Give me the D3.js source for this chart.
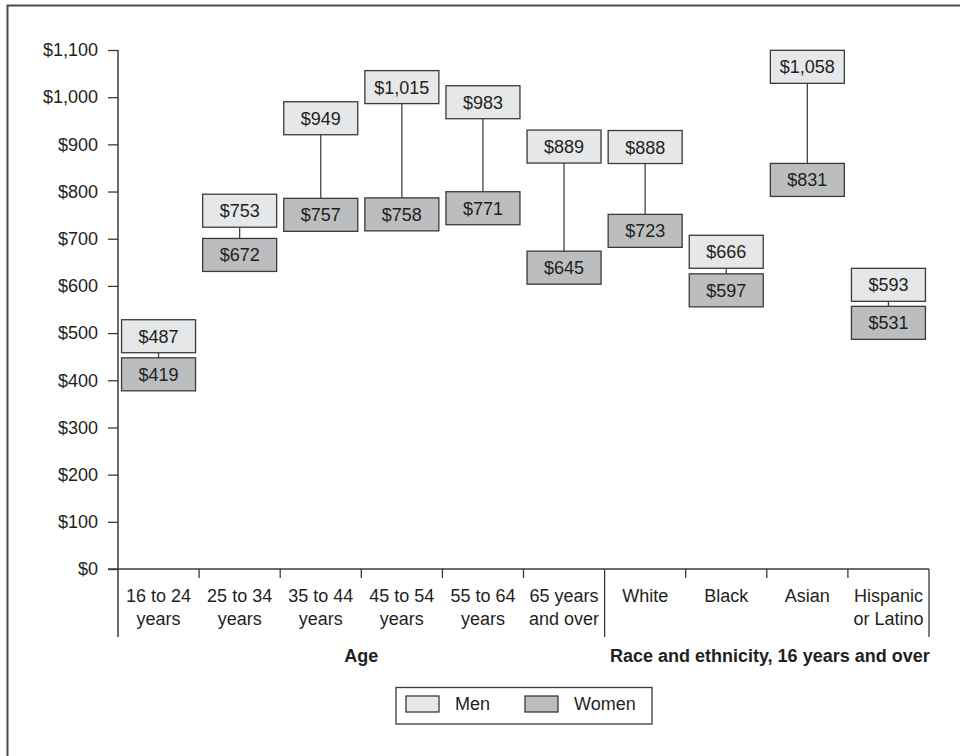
<!DOCTYPE html>
<html>
<head>
<meta charset="utf-8">
<script src="https://cdn.jsdelivr.net/npm/d3@7"></script>
<style>
  html, body { margin: 0; padding: 0; background: #fff; }
  svg { display: block; }
  text { font-family: "Liberation Sans", Arial, Helvetica, sans-serif; fill: #231f20; }
</style>
</head>
<body>
<svg id="chart" width="960" height="756"></svg>
<script>
// ---- data ----
const categories = ["16 to 24 years", "25 to 34 years", "35 to 44 years", "45 to 54 years", "55 to 64 years",
                    "65 years and over", "White", "Black", "Asian", "Hispanic or Latino"];
const categoryLines = [["16 to 24", "years"], ["25 to 34", "years"], ["35 to 44", "years"], ["45 to 54", "years"],
                       ["55 to 64", "years"], ["65 years", "and over"], ["White"], ["Black"], ["Asian"], ["Hispanic", "or Latino"]];
const men   = [487, 753, 949, 1015, 983, 889, 888, 666, 1058, 593];
const women = [419, 672, 757, 758, 771, 645, 723, 597, 831, 531];
const yTicks = [0, 100, 200, 300, 400, 500, 600, 700, 800, 900, 1000, 1100];
const groupLabels = ["Age", "Race and ethnicity, 16 years and over"];
const groupSizes = [6, 4];
const seriesNames = ["Men", "Women"];
const seriesColors = ["#e6e7e8", "#bcbdbf"];

// ---- layout ----
const svg = d3.select("#chart");
const stroke = "#3a3a3a";
const fs = 18;
const x = d3.scaleBand().domain(categories).range([118, 929]).padding(0);
const y = d3.scaleLinear().domain([0, 1100]).range([569, 50]);
const boxW = 74, boxH = 33, offset = 3, gap = 5;
const fmt = v => "$" + d3.format(",")(v);

// outer frame (cropped at right/bottom)
svg.append("path").attr("d", "M7.5,760 L7.5,5.5 L970,5.5")
  .attr("fill", "none").attr("stroke", "#4a4a4a").attr("stroke-width", 2);

// y axis
const yAxis = d3.axisLeft(y).tickValues(yTicks).tickFormat(fmt).tickSize(10).tickSizeOuter(0).tickPadding(10);
const yg = svg.append("g").attr("transform", "translate(118,0)").call(yAxis);
yg.select(".domain").remove();
yg.selectAll(".tick line").attr("stroke", stroke).attr("stroke-width", 1.3);
yg.selectAll(".tick text").attr("font-size", fs).attr("font-family", "Liberation Sans, Arial, sans-serif").attr("fill", "#231f20");
svg.append("line").attr("x1", 118).attr("x2", 118).attr("y1", y(1100)).attr("y2", 637)
  .attr("stroke", stroke).attr("stroke-width", 1.5);

// x axis line
svg.append("line").attr("x1", 108).attr("x2", x.range()[1]).attr("y1", y(0)).attr("y2", y(0))
  .attr("stroke", stroke).attr("stroke-width", 1.5);

// category separators
categories.forEach((c, i) => {
  if (i === 0) return;
  const bx = x(c);
  const tall = (i === groupSizes[0]);
  svg.append("line").attr("x1", bx).attr("x2", bx).attr("y1", y(0)).attr("y2", tall ? 637 : 578)
    .attr("stroke", stroke).attr("stroke-width", 1.3);
});
svg.append("line").attr("x1", x.range()[1]).attr("x2", x.range()[1]).attr("y1", y(0)).attr("y2", 637)
  .attr("stroke", stroke).attr("stroke-width", 1.3);

// category labels
categories.forEach((c, i) => {
  const t = svg.append("text").attr("x", x(c) + x.bandwidth() / 2).attr("y", 602)
    .attr("text-anchor", "middle").attr("font-size", fs);
  categoryLines[i].forEach((ln, j) => {
    t.append("tspan").attr("x", x(c) + x.bandwidth() / 2).attr("dy", j === 0 ? 0 : 23).text(ln);
  });
});

// group labels
const ageCenter = (x(categories[0]) + x(categories[5]) + x.bandwidth()) / 2;
const raceCenter = (x(categories[6]) + x(categories[9]) + x.bandwidth()) / 2 + 3;
svg.append("text").attr("x", ageCenter).attr("y", 662).attr("text-anchor", "middle")
  .attr("font-size", fs).attr("font-weight", "bold").text(groupLabels[0]);
svg.append("text").attr("x", raceCenter).attr("y", 662).attr("text-anchor", "middle")
  .attr("font-size", fs).attr("font-weight", "bold").text(groupLabels[1]);

// boxes
categories.forEach((c, i) => {
  const cx = x(c) + x.bandwidth() / 2;
  let ym = y(men[i]) - offset;
  let yw = y(women[i]) + offset;
  if (yw - ym < boxH + gap) {
    const mid = (ym + yw) / 2;
    ym = mid - (boxH + gap) / 2;
    yw = mid + (boxH + gap) / 2;
  }
  // connector
  svg.append("line").attr("x1", cx).attr("x2", cx)
    .attr("y1", ym + boxH / 2).attr("y2", yw - boxH / 2)
    .attr("stroke", "#444").attr("stroke-width", 1.3);
  [[ym, men[i], seriesColors[0]], [yw, women[i], seriesColors[1]]].forEach(([cy, v, col]) => {
    svg.append("rect").attr("x", cx - boxW / 2).attr("y", cy - boxH / 2)
      .attr("width", boxW).attr("height", boxH)
      .attr("fill", col).attr("stroke", stroke).attr("stroke-width", 1.3);
    svg.append("text").attr("x", cx).attr("y", cy).attr("dy", "0.36em")
      .attr("text-anchor", "middle").attr("font-size", fs).text(fmt(v));
  });
});

// legend
const lg = svg.append("g");
lg.append("rect").attr("x", 396).attr("y", 687.5).attr("width", 256).attr("height", 36.5)
  .attr("fill", "#fff").attr("stroke", stroke).attr("stroke-width", 1.3);
const legX = [406, 525];
const legTX = [455, 574];
seriesNames.forEach((s, i) => {
  lg.append("rect").attr("x", legX[i]).attr("y", 696).attr("width", 33).attr("height", 16)
    .attr("fill", seriesColors[i]).attr("stroke", stroke).attr("stroke-width", 1.3);
  lg.append("text").attr("x", legTX[i]).attr("y", 704).attr("dy", "0.36em")
    .attr("font-size", fs).text(s);
});
</script>
</body>
</html>
